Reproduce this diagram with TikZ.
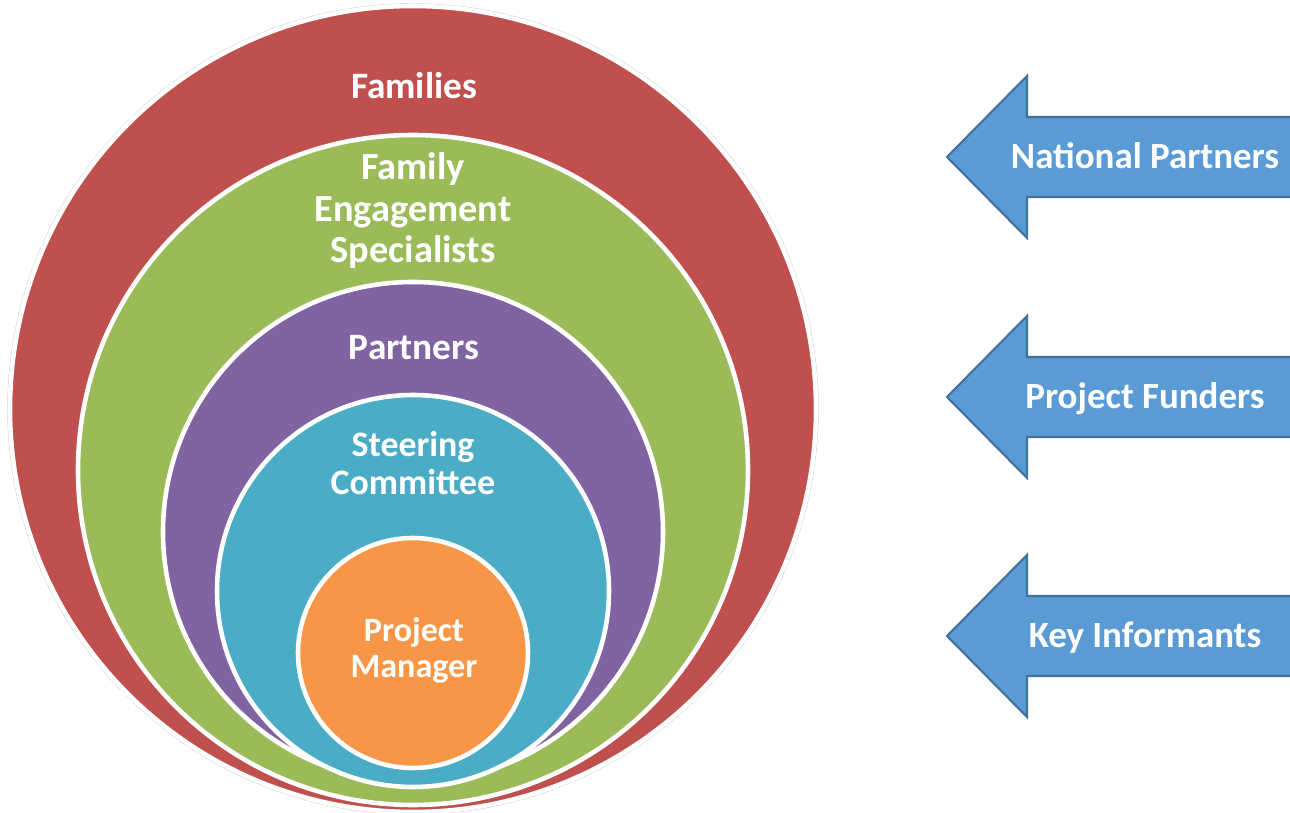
\documentclass[tikz,border=0pt]{standalone}
\usepackage{fontspec}
\setmainfont{Carlito}
\usetikzlibrary{positioning}

\definecolor{famred}{HTML}{C0504D}
\definecolor{famgreen}{HTML}{9BBB59}
\definecolor{partpurple}{HTML}{8064A2}
\definecolor{steerteal}{HTML}{4BACC6}
\definecolor{pmorange}{HTML}{F79646}
\definecolor{arrowblue}{HTML}{5B9BD5}
\definecolor{arrowedge}{HTML}{41719C}

\begin{document}
\begin{tikzpicture}[
    x=0.01cm, y=-0.01cm,
    ring/.style={fill=#1, draw=white, line width=1.3pt},
    lbl/.style={text=white, anchor=base, inner sep=0pt,
      font=\bfseries\fontsize{#1}{12}\selectfont},
    lbl/.default=10.6,
    blockarrow/.style={fill=arrowblue, draw=arrowedge, line width=0.6pt, line join=miter}
  ]
  \useasboundingbox (0,0) rectangle (1290,813);

  % nested circles, outermost first
  \draw[gray!40, line width=0.4pt] (413,409) circle[radius=405];
  \filldraw[ring=famred] (413,409) circle[radius=403];
  \filldraw[ring=famgreen] (413,470) circle[radius=335];
  \filldraw[ring=partpurple] (413,532) circle[radius=250];
  \filldraw[ring=steerteal] (413,591) circle[radius=196];
  \filldraw[ring=pmorange] (413,653) circle[radius=115];

  % circle labels
  \node[lbl] (families) at (414,99) {Families};
  \node[lbl=10.9] (fes1) at (413,180) {Family};
  \node[lbl=10.9] (fes2) at (413,222) {Engagement};
  \node[lbl=10.9] (fes3) at (413,263) {Specialists};
  \node[lbl] (partners) at (414,360) {Partners};
  \node[lbl=10.2] (steer1) at (413,457) {Steering};
  \node[lbl=10.2] (steer2) at (413,495) {Committee};
  \node[lbl=9.7] (pm1) at (414,642) {Project};
  \node[lbl=9.7] (pm2) at (414,678) {Manager};

  % block arrows pointing at the circles
  \foreach \y/\txt/\nm in {157/National Partners/natpart, 397/Project Funders/projfund, 636/Key Informants/keyinf}{
    \draw[blockarrow] (947,\y) -- (1027,\y-81) -- (1027,\y-40) -- (1310,\y-40)
      -- (1310,\y+40) -- (1027,\y+40) -- (1027,\y+81) -- cycle;
    \node[lbl=10.5] (\nm) at (1145,\y+12) {\txt};
  }
\end{tikzpicture}
\end{document}
